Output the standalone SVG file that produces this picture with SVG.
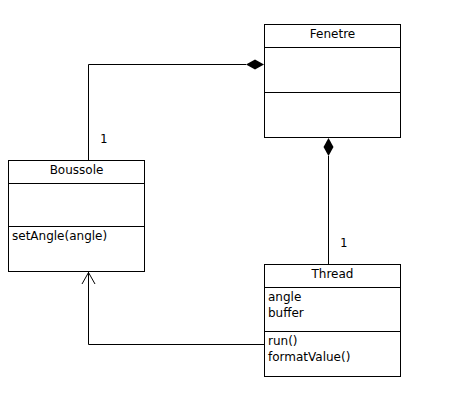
<svg xmlns="http://www.w3.org/2000/svg" width="460" height="404" viewBox="0 0 460 404">
<style>
.box{fill:#fff;stroke:#000;stroke-width:1}
.ln{fill:none;stroke:#000;stroke-width:1}
text{font-family:"DejaVu Sans",sans-serif;font-size:12px;fill:#000}
.c{text-anchor:middle}
.m{font-family:"DejaVu Sans Mono",monospace}
</style>
<rect width="460" height="404" fill="#fff"/>
<g id="connectors">
<path class="ln" d="M88.5,160 V64.5 H246"/>
<polygon points="264,64.5 255,59.5 246,64.5 255,69.5" fill="#000"/>
<text class="m" x="100" y="143">1</text>
<path class="ln" d="M328.5,264 V156"/>
<polygon points="328.5,138 323.5,147 328.5,156 333.5,147" fill="#000"/>
<text class="m" x="340" y="247">1</text>
<path class="ln" d="M264,344.5 H88.5 V272"/>
<path class="ln" d="M82,284 L88.5,272.5 L95,284"/>
</g>
<g id="Fenetre">
<rect class="box" x="264.5" y="24.5" width="136" height="113"/>
<line class="ln" x1="264.5" y1="47.5" x2="400.5" y2="47.5"/>
<line class="ln" x1="264.5" y1="92.5" x2="400.5" y2="92.5"/>
<text class="c" x="332.5" y="38">Fenetre</text>
</g>
<g id="Boussole">
<rect class="box" x="8.5" y="160.5" width="136" height="111"/>
<line class="ln" x1="8.5" y1="183.5" x2="144.5" y2="183.5"/>
<line class="ln" x1="8.5" y1="226.5" x2="144.5" y2="226.5"/>
<text class="c" x="76.5" y="174">Boussole</text>
<text x="12" y="240">setAngle(angle)</text>
</g>
<g id="Thread">
<rect class="box" x="264.5" y="264.5" width="136" height="112"/>
<line class="ln" x1="264.5" y1="287.5" x2="400.5" y2="287.5"/>
<line class="ln" x1="264.5" y1="331.5" x2="400.5" y2="331.5"/>
<text class="c" x="332.5" y="278">Thread</text>
<text x="268" y="301">angle</text>
<text x="268" y="317">buffer</text>
<text x="268" y="345">run()</text>
<text x="268" y="361">formatValue()</text>
</g>
</svg>
